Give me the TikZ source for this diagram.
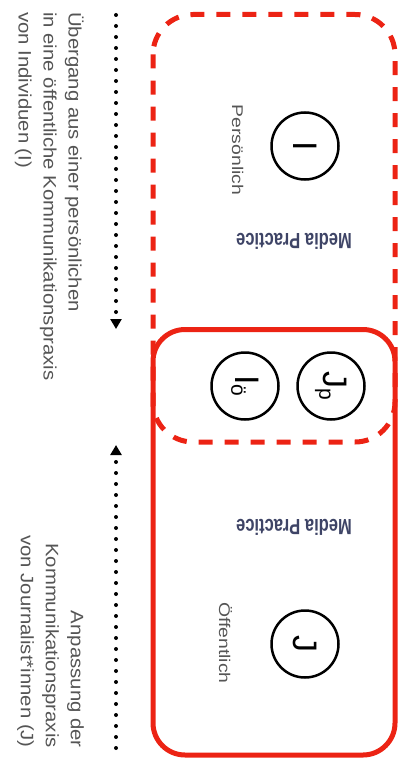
\documentclass[tikz,border=0pt]{standalone}
\usepackage{fontspec}
\setmainfont{Liberation Sans}
\newfontfamily\sidefont[FakeStretch=1.13]{Liberation Sans}
\newfontfamily\tagfont[FakeStretch=1.25]{Liberation Sans}
\newfontfamily\mpfont[FakeStretch=0.75]{Liberation Sans}
\usetikzlibrary{arrows.meta}

\definecolor{mpred}{HTML}{EC2314}
\definecolor{mpslate}{HTML}{3E4466}
\definecolor{mpgray}{HTML}{555555}

% lowered index letter inside the circles
\newcommand{\lowidx}[1]{\raisebox{-0.12em}{\fontsize{21}{21}\selectfont #1}}

\begin{document}
\begin{tikzpicture}[x=1pt,y=-1pt,
    bub/.style={circle, draw, line width=2.5pt, minimum size=67pt, inner sep=0pt,
                rotate=-90, font=\fontsize{34}{34}\selectfont},
    practice/.style={rotate=180, text=mpslate, font=\mpfont\bfseries\fontsize{22}{22}\selectfont},
    tag/.style={rotate=-90, anchor=base, text=mpgray, inner sep=0pt,
                font=\tagfont\fontsize{15.5}{15.5}\selectfont},
    sidetext/.style={rotate=-90, text=mpgray, inner sep=0pt,
                font=\sidefont\fontsize{18}{25}\selectfont},
    dotarrow/.style={line width=4pt, line cap=round, dash pattern=on 0pt off 11pt,
                -{Triangle[width=11pt,length=10pt]}}]

    \useasboundingbox (0,0) rectangle (398,760);

    % The two practice frames: personal (dashed) and public (solid)
    \draw[mpred, line width=5pt, dash pattern=on 14pt off 12pt, rounded corners=40pt]
        (153,14.5) rectangle (395,442);
    \draw[mpred, line width=5pt, rounded corners=32pt]
        (153,329.5) rectangle (395,755);

    % Actors
    \node[bub] (I)  at (305,146) {I};
    \node[bub] (Io) at (245,386) {I\lowidx{ö}};
    \node[bub] (Jp) at (331,386) {J\lowidx{p}};
    \node[bub] (J)  at (305,644) {J};

    % Labels inside the frames
    \node[tag] (pers) at (232,150) {Persönlich};
    \node[tag] (oeff) at (219,643) {Öffentlich};
    \node[practice] (mp1) at (294,241) {Media Practice};
    \node[practice] (mp2) at (294,527) {Media Practice};

    % Dotted arrows on the left
    \coordinate (a1s) at (116,15);
    \coordinate (a1e) at (116,329);
    \coordinate (a2s) at (116,748);
    \coordinate (a2e) at (116,445);
    \draw[dotarrow] (a1s) -- (a1e);
    \draw[dotarrow] (a2s) -- (a2e);

    % Explanations
    \node[sidetext, align=left, anchor=north west] (uebergang) at (84,12)
        {Übergang aus einer persönlichen\\in eine öffentliche Kommunikationspraxis\\von Individuen (I)};
    \node[sidetext, align=right, anchor=north east] (anpassung) at (84,748)
        {Anpassung der\\Kommunikationspraxis\\von Journalist*innen (J)};

\end{tikzpicture}
\end{document}
